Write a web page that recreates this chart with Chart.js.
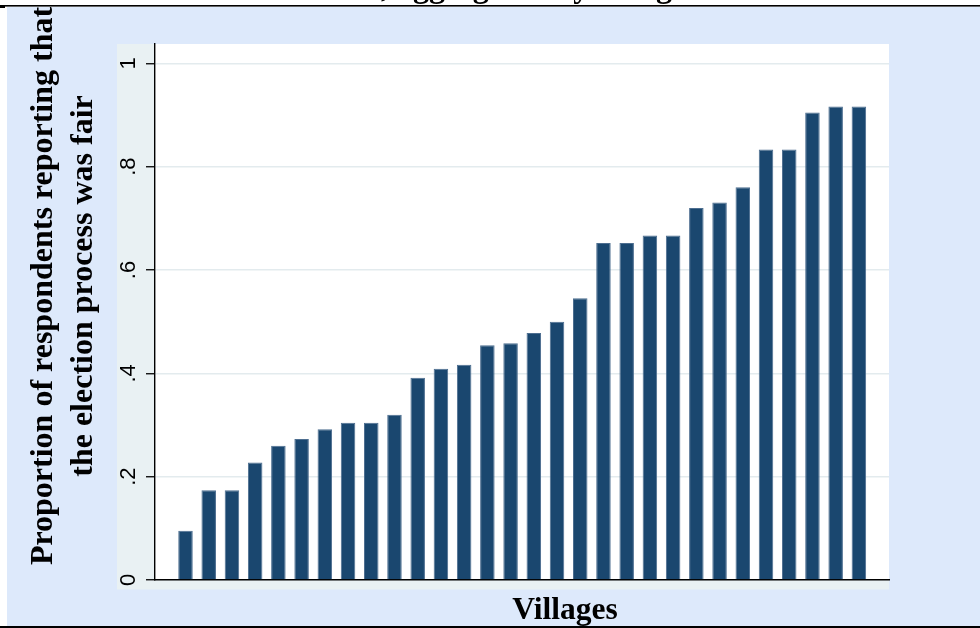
<!DOCTYPE html>
<html>
<head>
<meta charset="utf-8">
<script src="https://cdn.jsdelivr.net/npm/chart.js@4.4.1/dist/chart.umd.min.js"></script>
<style>
  html, body { margin: 0; padding: 0; background: #ffffff; }
  #wrap { width: 980px; height: 628px; }
</style>
</head>
<body>
<div id="wrap"><canvas id="c" width="980" height="628"></canvas></div>
<script>
// ---- data ----
const villages = [1, 2, 3, 4, 5, 6, 7, 8, 9, 10, 11, 12, 13, 14, 15, 16, 17, 18, 19, 20, 21, 22, 23, 24, 25, 26, 27, 28, 29, 30];
const fairShare = [0.0952, 0.1739, 0.1739, 0.2273, 0.26, 0.2727, 0.2917, 0.3043, 0.3043, 0.32,
                   0.3913, 0.4091, 0.4167, 0.4545, 0.4583, 0.4783, 0.5, 0.5455, 0.6522, 0.6522,
                   0.6667, 0.6667, 0.72, 0.7308, 0.76, 0.8333, 0.8333, 0.9048, 0.9167, 0.9167];
const yTickValues = [0, 0.2, 0.4, 0.6, 0.8, 1];
const yTickLabels = ['0', '.2', '.4', '.6', '.8', '1'];
const yTitleLines = ['Proportion of respondents reporting that', 'the election process was fair'];
const xTitle = 'Villages';
const topTitleFragment = ', aggregated by village';

// ---- styling ----
const COL_BG = '#dde9fb';
const COL_PLOT_OUTER = '#e9f1f3';
const COL_BAR = '#1a476f';
const SERIF = '"Liberation Serif", "Times New Roman", serif';
const SANS = '"Liberation Sans", Arial, sans-serif';

const framePlugin = {
  id: 'frame',
  beforeDraw(chart) {
    const ctx = chart.ctx;
    const a = chart.chartArea;
    ctx.save();
    ctx.fillStyle = '#ffffff';
    ctx.fillRect(0, 0, 980, 628);
    ctx.fillStyle = COL_BG;
    ctx.fillRect(7, 7, 973, 619);
    ctx.fillStyle = COL_PLOT_OUTER;
    ctx.fillRect(117, a.top, a.right - 117, a.bottom + 9.5 - a.top);
    ctx.fillStyle = '#ffffff';
    ctx.fillRect(a.left, a.top, a.right - a.left, a.bottom - a.top);
    ctx.restore();
  },
  afterDraw(chart) {
    const ctx = chart.ctx;
    ctx.save();
    // top title fragment (cut off by the frame)
    ctx.save();
    ctx.beginPath();
    ctx.rect(0, 0, 980, 5);
    ctx.clip();
    ctx.fillStyle = '#000';
    ctx.font = 'bold 32px ' + SERIF;
    ctx.textAlign = 'left';
    ctx.textBaseline = 'alphabetic';
    ctx.fillText(topTitleFragment, 381, -3);
    ctx.restore();

    // y axis title
    ctx.save();
    ctx.beginPath();
    ctx.rect(7, 7, 973, 619);
    ctx.clip();
    ctx.fillStyle = '#000';
    ctx.font = 'bold 32px ' + SERIF;
    ctx.textAlign = 'center';
    ctx.textBaseline = 'alphabetic';
    yTitleLines.forEach((line, i) => {
      ctx.save();
      ctx.translate(52 + i * 40, 286);
      ctx.rotate(-Math.PI / 2);
      ctx.fillText(line, 0, 0);
      ctx.restore();
    });
    ctx.restore();

    // x axis title
    ctx.fillStyle = '#000';
    ctx.font = 'bold 31.5px ' + SERIF;
    ctx.textAlign = 'center';
    ctx.textBaseline = 'alphabetic';
    ctx.fillText(xTitle, 565, 619);

    // frame lines
    ctx.fillStyle = '#000';
    ctx.fillRect(0, 5, 980, 1.6);
    ctx.fillRect(0, 5, 5, 3);
    ctx.fillRect(0, 626, 980, 2);
    ctx.restore();
  }
};

new Chart(document.getElementById('c'), {
  type: 'bar',
  data: {
    datasets: [{
      data: villages.map((v, i) => ({ x: v, y: fairShare[i] })),
      backgroundColor: COL_BAR,
      borderColor: '#4d6e90',
      borderWidth: { left: 1, right: 1, top: 1, bottom: 0 },
      borderSkipped: 'bottom',
      categoryPercentage: 1,
      barPercentage: 0.625
    }]
  },
  options: {
    responsive: false,
    animation: false,
    devicePixelRatio: 1,
    layout: { padding: { left: 0, top: 44, right: 91, bottom: 48 } },
    plugins: { legend: { display: false }, tooltip: { enabled: false }, title: { display: false } },
    scales: {
      x: {
        type: 'linear',
        offset: false,
        min: -0.3135,
        max: 31.297,
        z: 1,
        grid: { display: false, drawTicks: false, offset: false },
        ticks: { display: false },
        border: { display: true, color: '#000', width: 1.6 },
        afterFit(s) { s.height = 0; }
      },
      y: {
        type: 'linear',
        min: 0,
        max: 1.0375,
        afterBuildTicks(s) { s.ticks = yTickValues.map(v => ({ value: v })); },
        ticks: {
          callback: (v) => { const i = yTickValues.indexOf(v); return i >= 0 ? yTickLabels[i] : ''; },
          minRotation: 90,
          maxRotation: 90,
          crossAlign: 'center',
          padding: 8,
          color: '#000',
          font: { family: SANS, size: 22 }
        },
        grid: { color: '#e3ebee', lineWidth: 1.5, tickColor: '#000', tickLength: 9, tickWidth: 1.3 },
        border: { display: true, color: '#000', width: 1.4 },
        afterFit(s) { s.width = 155; }
      }
    }
  },
  plugins: [framePlugin]
});
</script>
</body>
</html>
